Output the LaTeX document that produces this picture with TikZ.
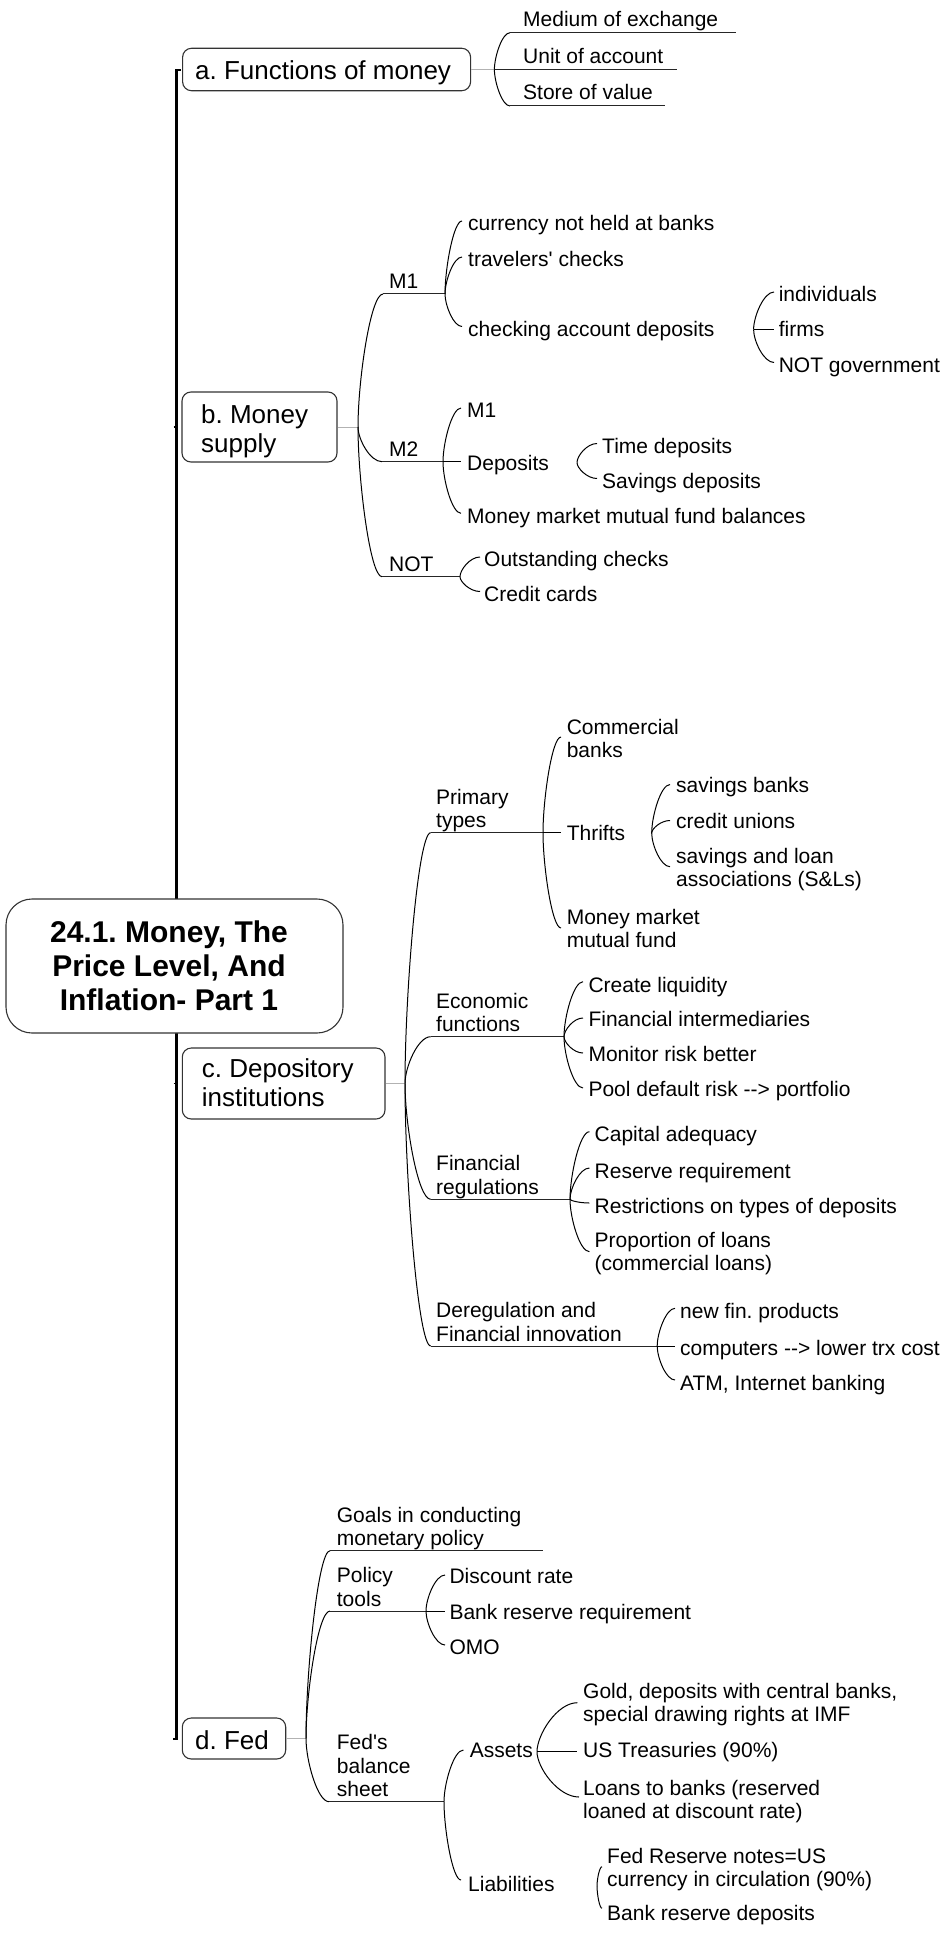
\documentclass[tikz,border=0pt]{standalone}
\usepackage{fontspec}
\setmainfont{Liberation Sans}
\usetikzlibrary{calc}
\frenchspacing

\newcommand\leafsize{\fontsize{21}{23.5}\selectfont}
\newcommand\boxsize{\fontsize{26}{29.5}\selectfont}
\newcommand\titlesize{\fontsize{30}{34}\selectfont\bfseries}
\newcommand\stack[1]{\begin{tabular}[t]{@{}l@{}}#1\end{tabular}}
\newcommand\cstack[1]{\begin{tabular}[t]{@{}c@{}}#1\end{tabular}}
% curved connector: leaves the fork vertically, arrives horizontally
\newcommand\mmlink[2]{\draw[branch] (#1) .. controls ($(#1)!0.35!(#1|-#2)$) and ($(#1|-#2)!0.5!(#2)$) .. (#2);}

\begin{document}
\begin{tikzpicture}[x=1pt,y=-1pt,
  leaf/.style={anchor=base west, inner sep=0pt, font=\leafsize},
  boxtext/.style={anchor=base west, inner sep=0pt, font=\boxsize},
  topbox/.style={draw=black!80, line width=1.1pt, rounded corners=9pt, fill=white, inner sep=0pt},
  titlebox/.style={draw=black!80, line width=1.1pt, rounded corners=26pt, fill=white, inner sep=0pt},
  branch/.style={line width=1pt, black},
  uline/.style={line width=1pt, black!85},
  stem/.style={line width=1pt, black!30},
  trunk/.style={line width=2.2pt, black},
  tick/.style={line width=1.4pt, black}]
\useasboundingbox (0,0) rectangle (948,1934);

% ---------- trunk joining the main topics ----------
\coordinate (tk0) at (180.5,70);
\coordinate (tk1) at (176.5,70);
\coordinate (tk2) at (176.5,1739);
\coordinate (tk3) at (173,1739);
\draw[trunk] (tk0) -- (tk1) -- (tk2) -- (tk3);
\coordinate (tkb0) at (173.5,427);   \coordinate (tkb1) at (176.5,427);
\coordinate (tkc0) at (173.5,1083.5); \coordinate (tkc1) at (176.5,1083.5);
\draw[tick] (tkb0) -- (tkb1);
\draw[tick] (tkc0) -- (tkc1);

% ---------- central topic ----------
\node[titlebox, minimum width=337pt, minimum height=134pt] (title) at (174.5,966) {};
\node[anchor=base, inner sep=0pt, font=\titlesize] (titletext) at (169,942.7)
  {\cstack{24.1. Money, The\\Price Level, And\\Inflation- Part 1}};

% ---------- a. Functions of money ----------
\node[topbox, minimum width=288pt, minimum height=42.5pt] (fa) at (326.6,69.5) {};
\node[boxtext] (fat) at (195,80) {a. Functions of money};
\coordinate (faJ) at (494.4,69.5);
\draw[stem] (fa.east) -- (faJ);

\node[leaf] (me) at (523,26.7) {Medium of exchange};
\coordinate (meS) at (510,32.7); \coordinate (meE) at (735.5,32.7);
\mmlink{faJ}{meS}
\draw[uline] (meS) -- (meE);
\node[leaf] (ua) at (523,63.3) {Unit of account};
\coordinate (uaE) at (677,69.5);
\draw[uline] (faJ) -- (uaE);
\node[leaf] (sv) at (523,100) {Store of value};
\coordinate (svS) at (510,106); \coordinate (svE) at (665,106);
\mmlink{faJ}{svS}
\draw[uline] (svS) -- (svE);

% ---------- b. Money supply ----------
\node[topbox, minimum width=155pt, minimum height=70pt] (fb) at (259.5,427) {};
\node[boxtext] (fbt) at (201,423) {\stack{b. Money\\supply}};
\coordinate (fbJ) at (358,427);
\draw[stem] (fb.east) -- (fbJ);

% M1
\node[leaf] (m1) at (389,288.5) {M1};
\coordinate (m1S) at (383,294); \coordinate (m1J) at (445,294);
\mmlink{fbJ}{m1S}
\draw[uline] (m1S) -- (m1J);
\node[leaf] (cur) at (468,231) {currency not held at banks};
\coordinate (curE) at (462,221);
\mmlink{m1J}{curE}
\node[leaf] (trv) at (468,267) {travelers\textquotesingle\ checks};
\coordinate (trvE) at (462,257);
\mmlink{m1J}{trvE}
\node[leaf] (chk) at (468,336.5) {checking account deposits};
\coordinate (chkE) at (462,326.5);
\mmlink{m1J}{chkE}
\coordinate (chkJ) at (753.6,329.5);
\node[leaf] (ind) at (778.6,302) {individuals};
\coordinate (indE) at (774,292);
\mmlink{chkJ}{indE}
\node[leaf] (frm) at (778.6,337) {firms};
\coordinate (frmE) at (774,329.5);
\draw[branch] (chkJ) -- (frmE);
\node[leaf] (ngv) at (778.6,372.5) {NOT government};
\coordinate (ngvE) at (774,362.5);
\mmlink{chkJ}{ngvE}

% M2
\node[leaf] (m2) at (389,456) {M2};
\coordinate (m2S) at (382,461.7); \coordinate (m2J) at (443,461.7);
\mmlink{fbJ}{m2S}
\draw[uline] (m2S) -- (m2J);
\node[leaf] (m2a) at (467,417) {M1};
\coordinate (m2aE) at (461,408);
\mmlink{m2J}{m2aE}
\node[leaf] (dep) at (467,470) {Deposits};
\coordinate (depE) at (461,461.7);
\draw[branch] (m2J) -- (depE);
\node[leaf] (mmf) at (467,523.3) {Money market mutual fund balances};
\coordinate (mmfE) at (461,513.3);
\mmlink{m2J}{mmfE}
\coordinate (depJ) at (577,462.5);
\node[leaf] (tim) at (602,453.5) {Time deposits};
\coordinate (timE) at (597,443.5);
\mmlink{depJ}{timE}
\node[leaf] (sav) at (602,488.5) {Savings deposits};
\coordinate (savE) at (597,478.5);
\mmlink{depJ}{savE}

% NOT
\node[leaf] (nt) at (389,571) {NOT};
\coordinate (ntS) at (382,576.7); \coordinate (ntJ) at (460,576.7);
\mmlink{fbJ}{ntS}
\draw[uline] (ntS) -- (ntJ);
\node[leaf] (out) at (484,566.5) {Outstanding checks};
\coordinate (outE) at (480,557);
\mmlink{ntJ}{outE}
\node[leaf] (crd) at (484,601.5) {Credit cards};
\coordinate (crdE) at (480,591.5);
\mmlink{ntJ}{crdE}

% ---------- c. Depository institutions ----------
\node[topbox, minimum width=202.7pt, minimum height=71pt] (fc) at (283.65,1083.5) {};
\node[boxtext] (fct) at (201.7,1077) {\stack{c. Depository\\institutions}};
\coordinate (fcJ) at (405,1083.5);
\draw[stem] (fc.east) -- (fcJ);

% Primary types
\node[leaf] (pty) at (436,804.2) {\stack{Primary\\types}};
\coordinate (ptyS) at (430.7,832.7); \coordinate (ptyJ) at (543,832.7);
\mmlink{fcJ}{ptyS}
\draw[uline] (ptyS) -- (ptyJ);
\node[leaf] (com) at (566.6,734) {\stack{Commercial\\banks}};
\coordinate (comE) at (561,737);
\mmlink{ptyJ}{comE}
\node[leaf] (thr) at (566.6,840) {Thrifts};
\coordinate (thrE) at (561,832.7);
\draw[branch] (ptyJ) -- (thrE);
\node[leaf] (mmm) at (566.6,924) {\stack{Money market\\mutual fund}};
\coordinate (mmmE) at (561,928);
\mmlink{ptyJ}{mmmE}
\coordinate (thrJ) at (651.7,833);
\node[leaf] (svb) at (676,792.7) {savings banks};
\coordinate (svbE) at (670,784.5);
\mmlink{thrJ}{svbE}
\node[leaf] (cru) at (676,828.3) {credit unions};
\coordinate (cruE) at (670,820.5);
\mmlink{thrJ}{cruE}
\node[leaf] (sal) at (676,863.3) {\stack{savings and loan\\associations (S\&Ls)}};
\coordinate (salE) at (670,866.7);
\mmlink{thrJ}{salE}

% Economic functions
\node[leaf] (ef) at (436,1008.2) {\stack{Economic\\functions}};
\coordinate (efS) at (430.7,1036.7); \coordinate (efJ) at (564,1036.7);
\mmlink{fcJ}{efS}
\draw[uline] (efS) -- (efJ);
\node[leaf] (liq) at (588.3,992.3) {Create liquidity};
\coordinate (liqE) at (583,981.7);
\mmlink{efJ}{liqE}
\node[leaf] (fin) at (588.3,1026.7) {Financial intermediaries};
\coordinate (finE) at (583,1018);
\mmlink{efJ}{finE}
\node[leaf] (mon) at (588.3,1061.7) {Monitor risk better};
\coordinate (monE) at (583,1053);
\mmlink{efJ}{monE}
\node[leaf] (pdr) at (588.3,1096.7) {Pool default risk -{}-> portfolio};
\coordinate (pdrE) at (583,1088);
\mmlink{efJ}{pdrE}

% Financial regulations
\node[leaf] (frg) at (436,1170.8) {\stack{Financial\\regulations}};
\coordinate (frgS) at (430.7,1199.3); \coordinate (frgJ) at (570,1199.3);
\mmlink{fcJ}{frgS}
\draw[uline] (frgS) -- (frgJ);
\node[leaf] (cap) at (594.5,1141.7) {Capital adequacy};
\coordinate (capE) at (589.4,1131.7);
\mmlink{frgJ}{capE}
\node[leaf] (rrq) at (594.5,1178.3) {Reserve requirement};
\coordinate (rrqE) at (589.4,1168);
\mmlink{frgJ}{rrqE}
\node[leaf] (rst) at (594.5,1213.3) {Restrictions on types of deposits};
\coordinate (rstE) at (589.4,1203);
\mmlink{frgJ}{rstE}
\node[leaf] (prp) at (594.5,1247.3) {\stack{Proportion of loans\\(commercial loans)}};
\coordinate (prpE) at (589.4,1251.7);
\mmlink{frgJ}{prpE}

% Deregulation and financial innovation
\node[leaf] (drg) at (436,1317.5) {\stack{Deregulation and\\Financial innovation}};
\coordinate (drgS) at (430.7,1346); \coordinate (drgJ) at (657.2,1346);
\mmlink{fcJ}{drgS}
\draw[uline] (drgS) -- (drgJ);
\node[leaf] (nfp) at (680,1318.3) {new fin. products};
\coordinate (nfpE) at (675,1308.3);
\mmlink{drgJ}{nfpE}
\node[leaf] (cmp) at (680,1355) {computers -{}-> lower trx cost};
\coordinate (cmpE) at (675,1346);
\draw[branch] (drgJ) -- (cmpE);
\node[leaf] (atm) at (680,1390) {ATM, Internet banking};
\coordinate (atmE) at (675,1380);
\mmlink{drgJ}{atmE}

% ---------- d. Fed ----------
\node[topbox, minimum width=103.4pt, minimum height=41pt] (fd) at (234,1738.5) {};
\node[boxtext] (fdt) at (195,1749) {d. Fed};
\coordinate (fdJ) at (306,1738.5);
\draw[stem] (fd.east) -- (fdJ);

\node[leaf] (gl) at (336.7,1522) {\stack{Goals in conducting\\monetary policy}};
\coordinate (glS) at (330,1550.7); \coordinate (glE) at (543.3,1550.7);
\mmlink{fdJ}{glS}
\draw[uline] (glS) -- (glE);

\node[leaf] (ptl) at (336.7,1582.5) {\stack{Policy\\tools}};
\coordinate (ptlS) at (330,1611); \coordinate (ptlJ) at (426,1611);
\mmlink{fdJ}{ptlS}
\draw[uline] (ptlS) -- (ptlJ);
\node[leaf] (dsc) at (449.3,1583.3) {Discount rate};
\coordinate (dscE) at (445,1575);
\mmlink{ptlJ}{dscE}
\node[leaf] (brr) at (449.3,1619.3) {Bank reserve requirement};
\coordinate (brrE) at (445,1611);
\draw[branch] (ptlJ) -- (brrE);
\node[leaf] (omo) at (449.3,1654) {OMO};
\coordinate (omoE) at (445,1645);
\mmlink{ptlJ}{omoE}

\node[leaf] (fbs) at (336.7,1749.7) {\stack{Fed\textquotesingle s\\balance\\sheet}};
\coordinate (fbsS) at (329,1801.7); \coordinate (fbsJ) at (444,1801.7);
\mmlink{fdJ}{fbsS}
\draw[uline] (fbsS) -- (fbsJ);
\node[leaf] (ast) at (469.6,1757.7) {Assets};
\coordinate (astE) at (463.4,1750);
\mmlink{fbsJ}{astE}
\node[leaf] (lia) at (468,1891.7) {Liabilities};
\coordinate (liaE) at (461,1880);
\mmlink{fbsJ}{liaE}

\coordinate (astJ) at (537,1751.7);
\node[leaf] (gld) at (583,1698.3) {\stack{Gold, deposits with central banks,\\special drawing rights at IMF}};
\coordinate (gldE) at (577.3,1702.7);
\mmlink{astJ}{gldE}
\node[leaf] (ust) at (583,1757.7) {US Treasuries (90\%)};
\coordinate (ustE) at (577.3,1751.7);
\draw[branch] (astJ) -- (ustE);
\node[leaf] (lns) at (583,1795) {\stack{Loans to banks (reserved\\loaned at discount rate)}};
\coordinate (lnsE) at (579,1797);
\mmlink{astJ}{lnsE}

\coordinate (liaJ) at (597,1886);
\node[leaf] (frn) at (607,1863.3) {\stack{Fed Reserve notes=US\\currency in circulation (90\%)}};
\coordinate (frnE) at (602,1866.7);
\mmlink{liaJ}{frnE}
\node[leaf] (brd) at (607,1920.7) {Bank reserve deposits};
\coordinate (brdE) at (602,1908.3);
\mmlink{liaJ}{brdE}

\end{tikzpicture}
\end{document}
